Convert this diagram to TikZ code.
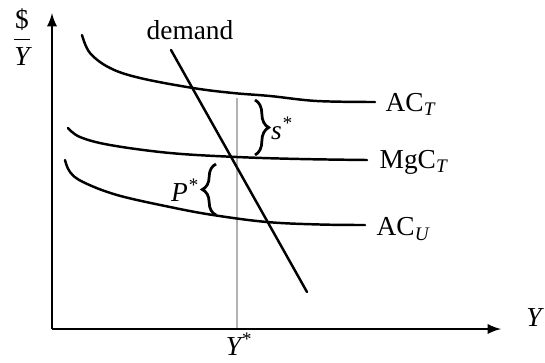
\documentclass[tikz,border=0pt]{standalone}
\usepackage{fontspec}
\setmainfont{Liberation Serif}
\usepackage{tikz}
\usetikzlibrary{positioning, decorations.pathreplacing}

\begin{document}
\begin{tikzpicture}[x=0.365pt, y=-0.365pt, font=\normalsize,
    curve/.style={line width=0.9pt, line cap=round},
    axis/.style={line width=0.7pt, -latex},
    bracelabel/.style={decorate, decoration={brace, amplitude=5pt}, line width=1pt}]
    \useasboundingbox (0,0) rectangle (545,362);

    % Define the points
    \coordinate (o) at (52, 329);
    \coordinate (ytop) at (52, 13);
    \coordinate (xend) at (501, 329);
    \coordinate (d1) at (171, 50);
    \coordinate (d2) at (307, 292);
    \coordinate (g1) at (237, 98);
    \coordinate (g2) at (237, 329);

    % Axes and guide line
    \draw[gray!60, line width=0.4pt] (g1) -- (g2);
    \draw[axis] (o) -- (ytop);
    \draw[axis] (o) -- (xend);

    % Draw the cost curves
    \begin{scope}[curve]
        \draw plot[smooth, tension=0.6] coordinates {(82,35) (90,53) (110,68) (140,78) (193,88) (233,93) (270,96) (317,101) (375,102)};
        \draw plot[smooth, tension=0.6] coordinates {(68,128) (80,137) (110,145) (170,153) (237,157) (300,159) (367,160)};
        \draw plot[smooth, tension=0.6] coordinates {(65,160) (70,172) (83,182) (117,195) (170,207) (213,215) (267,222) (320,224.5) (365,225)};
        \draw (d1) -- (d2);
    \end{scope}

    % Braces
    \draw[bracelabel] (255, 100) -- (255, 155);
    \draw[bracelabel] (216, 215) -- (216, 164);

    % Labels
    \node (dem) at (190, 30) {demand};
    \node[anchor=west] (act) at (376, 104) {AC\textsubscript{\itshape T}};
    \node[anchor=west] (mgc) at (370, 162) {MgC\textsubscript{\itshape T}};
    \node[anchor=west] (acu) at (367, 229) {AC\textsubscript{\itshape U}};
    \node (sstar) at (282, 128) {\itshape s\textsuperscript{*}};
    \node (pstar) at (185, 190) {\itshape P\textsuperscript{*}};
    \node (ystar) at (239, 344) {\itshape Y\textsuperscript{*}};
    \node[anchor=east, inner sep=1pt] (ylab) at (545, 318) {\itshape Y};
    \node (vlab) at (22, 37) {$\displaystyle\frac{\mbox{\$}}{\mbox{\itshape Y}}$};
\end{tikzpicture}
\end{document}
